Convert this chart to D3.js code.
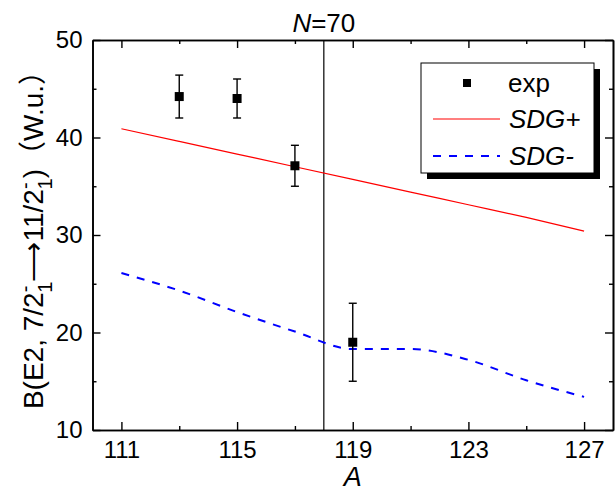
<!DOCTYPE html>
<html>
<head>
<meta charset="utf-8">
<script src="https://cdn.jsdelivr.net/npm/d3@7"></script>
<style>
  body { margin: 0; background: #fff; }
  svg { display: block; }
</style>
</head>
<body>
<div id="chart"></div>
<script>
// data
const expA = [113, 115, 117, 119];
const expB = [44.2, 44.0, 37.1, 19.0];
const expErr = [2.2, 2.0, 2.1, 4.0];

const calcA = [111, 113, 115, 117, 119, 121, 123, 125, 127];
const sdgPlus = [40.9, 39.6, 38.3, 37.0, 35.7, 34.4, 33.1, 31.8, 30.4];
const sdgMinus = [26.1, 24.3, 22.1, 20.1, 18.3, 18.3, 17.2, 15.1, 13.4];

const xMajor = [111, 115, 119, 123, 127];
const xMinor = [113, 117, 121, 125];
const yMajor = [10, 20, 30, 40, 50];
const yMinor = [15, 25, 35, 45];
const nLineA = 118;

const W = 616, H = 493;
const font = "'Liberation Sans', Arial, 'Noto Sans CJK SC', sans-serif";

const svg = d3.select("#chart").append("svg")
    .attr("width", W)
    .attr("height", H)
    .style("font-family", font);

const x = d3.scaleLinear().domain([110, 128]).range([92.5, 613]);
const y = d3.scaleLinear().domain([10, 50]).range([430, 40]);

// axes, ticks pointing inwards
function styleAxis(g) {
    g.selectAll("path.domain").attr("stroke", "#000").attr("stroke-width", 1.6);
    g.selectAll(".tick line").attr("stroke", "#000").attr("stroke-width", 1.4);
    g.selectAll(".tick text").attr("fill", "#000").style("font-size", "24px").style("font-family", font);
}

svg.append("g").attr("transform", `translate(0,${y(10)})`)
    .call(d3.axisBottom(x).tickValues(xMajor).tickSizeInner(-8).tickSizeOuter(0).tickPadding(11))
    .call(styleAxis);
svg.append("g").attr("transform", `translate(0,${y(10)})`)
    .call(d3.axisBottom(x).tickValues(xMinor).tickFormat("").tickSizeInner(-4).tickSizeOuter(0))
    .call(styleAxis);
svg.append("g").attr("transform", `translate(0,${y(50)})`)
    .call(d3.axisTop(x).tickValues(xMajor).tickFormat("").tickSizeInner(-8).tickSizeOuter(0))
    .call(styleAxis);
svg.append("g").attr("transform", `translate(0,${y(50)})`)
    .call(d3.axisTop(x).tickValues(xMinor).tickFormat("").tickSizeInner(-4).tickSizeOuter(0))
    .call(styleAxis);

svg.append("g").attr("transform", `translate(${x(110)},0)`)
    .call(d3.axisLeft(y).tickValues(yMajor).tickSizeInner(-8).tickSizeOuter(0).tickPadding(10))
    .call(styleAxis);
svg.append("g").attr("transform", `translate(${x(110)},0)`)
    .call(d3.axisLeft(y).tickValues(yMinor).tickFormat("").tickSizeInner(-4).tickSizeOuter(0))
    .call(styleAxis);
svg.append("g").attr("transform", `translate(${x(128)},0)`)
    .call(d3.axisRight(y).tickValues(yMajor).tickFormat("").tickSizeInner(-8).tickSizeOuter(0))
    .call(styleAxis);
svg.append("g").attr("transform", `translate(${x(128)},0)`)
    .call(d3.axisRight(y).tickValues(yMinor).tickFormat("").tickSizeInner(-4).tickSizeOuter(0))
    .call(styleAxis);

// N=70 line
svg.append("line")
    .attr("x1", x(nLineA)).attr("x2", x(nLineA))
    .attr("y1", y(50)).attr("y2", y(10))
    .attr("stroke", "#000").attr("stroke-width", 1.2);

const title = svg.append("text")
    .attr("x", x(nLineA)).attr("y", 32)
    .attr("text-anchor", "middle")
    .style("font-size", "26px");
title.append("tspan").style("font-style", "italic").text("N");
title.append("tspan").text("=70");

// calculated curves
const lineGen = d3.line()
    .x((d, i) => x(calcA[i]))
    .y(d => y(d))
    .curve(d3.curveMonotoneX);

svg.append("path")
    .datum(sdgPlus)
    .attr("d", lineGen)
    .attr("fill", "none")
    .attr("stroke", "#ff0000")
    .attr("stroke-width", 1.2);

svg.append("path")
    .datum(sdgMinus)
    .attr("d", lineGen)
    .attr("fill", "none")
    .attr("stroke", "#0000ff")
    .attr("stroke-width", 2)
    .attr("stroke-dasharray", "8,8");

// experiment with error bars
const exp = expA.map((a, i) => ({a: a, b: expB[i], e: expErr[i]}));
const eg = svg.append("g").selectAll("g").data(exp).join("g");
eg.append("line")
    .attr("x1", d => x(d.a)).attr("x2", d => x(d.a))
    .attr("y1", d => y(d.b + d.e)).attr("y2", d => y(d.b - d.e))
    .attr("stroke", "#000").attr("stroke-width", 1.4);
eg.selectAll("line.cap")
    .data(d => [d.b + d.e, d.b - d.e].map(v => ({a: d.a, v: v})))
    .join("line").attr("class", "cap")
    .attr("x1", d => x(d.a) - 4).attr("x2", d => x(d.a) + 4)
    .attr("y1", d => y(d.v)).attr("y2", d => y(d.v))
    .attr("stroke", "#000").attr("stroke-width", 1.4);
eg.append("rect")
    .attr("x", d => x(d.a) - 4.5).attr("y", d => y(d.b) - 4.5)
    .attr("width", 9).attr("height", 9)
    .attr("fill", "#000");

// legend
const lg = svg.append("g");
lg.append("rect").attr("x", 427).attr("y", 69).attr("width", 173).attr("height", 110).attr("fill", "#000");
lg.append("rect").attr("x", 421).attr("y", 63).attr("width", 173).attr("height", 110)
    .attr("fill", "#fff").attr("stroke", "#000").attr("stroke-width", 1);
lg.append("rect").attr("x", 463).attr("y", 79).attr("width", 8).attr("height", 8).attr("fill", "#000");
lg.append("text").attr("x", 508).attr("y", 92).style("font-size", "26px").text("exp");
lg.append("line").attr("x1", 433).attr("x2", 500).attr("y1", 119).attr("y2", 119)
    .attr("stroke", "#ff0000").attr("stroke-width", 1.2);
lg.append("text").attr("x", 509).attr("y", 128).style("font-size", "26px").style("font-style", "italic").text("SDG+");
lg.append("line").attr("x1", 433).attr("x2", 500).attr("y1", 156).attr("y2", 156)
    .attr("stroke", "#0000ff").attr("stroke-width", 2).attr("stroke-dasharray", "8,8");
lg.append("text").attr("x", 509).attr("y", 165).style("font-size", "26px").style("font-style", "italic").text("SDG-");

// axis titles
svg.append("text")
    .attr("x", (x(110) + x(128)) / 2).attr("y", 486)
    .attr("text-anchor", "middle")
    .style("font-size", "27px").style("font-style", "italic")
    .text("A");

const yt = svg.append("text")
    .attr("transform", "translate(43,233) rotate(-90)")
    .attr("text-anchor", "middle")
    .style("font-size", "28px");
yt.append("tspan").text("B(E2, 7/2");
yt.append("tspan").attr("dy", -11).style("font-size", "20px").text("-");
yt.append("tspan").attr("dx", -7).attr("dy", 20).style("font-size", "20px").text("1");
yt.append("tspan").attr("dy", -9).text("\u27F611/2");
yt.append("tspan").attr("dy", -11).style("font-size", "20px").text("-");
yt.append("tspan").attr("dx", -7).attr("dy", 20).style("font-size", "20px").text("1");
yt.append("tspan").attr("dy", -9).text(")");
yt.append("tspan").style("font-family", "'Noto Sans CJK SC'").text("\uFF08");
yt.append("tspan").text("W.u.");
yt.append("tspan").style("font-family", "'Noto Sans CJK SC'").text("\uFF09");
</script>
</body>
</html>
